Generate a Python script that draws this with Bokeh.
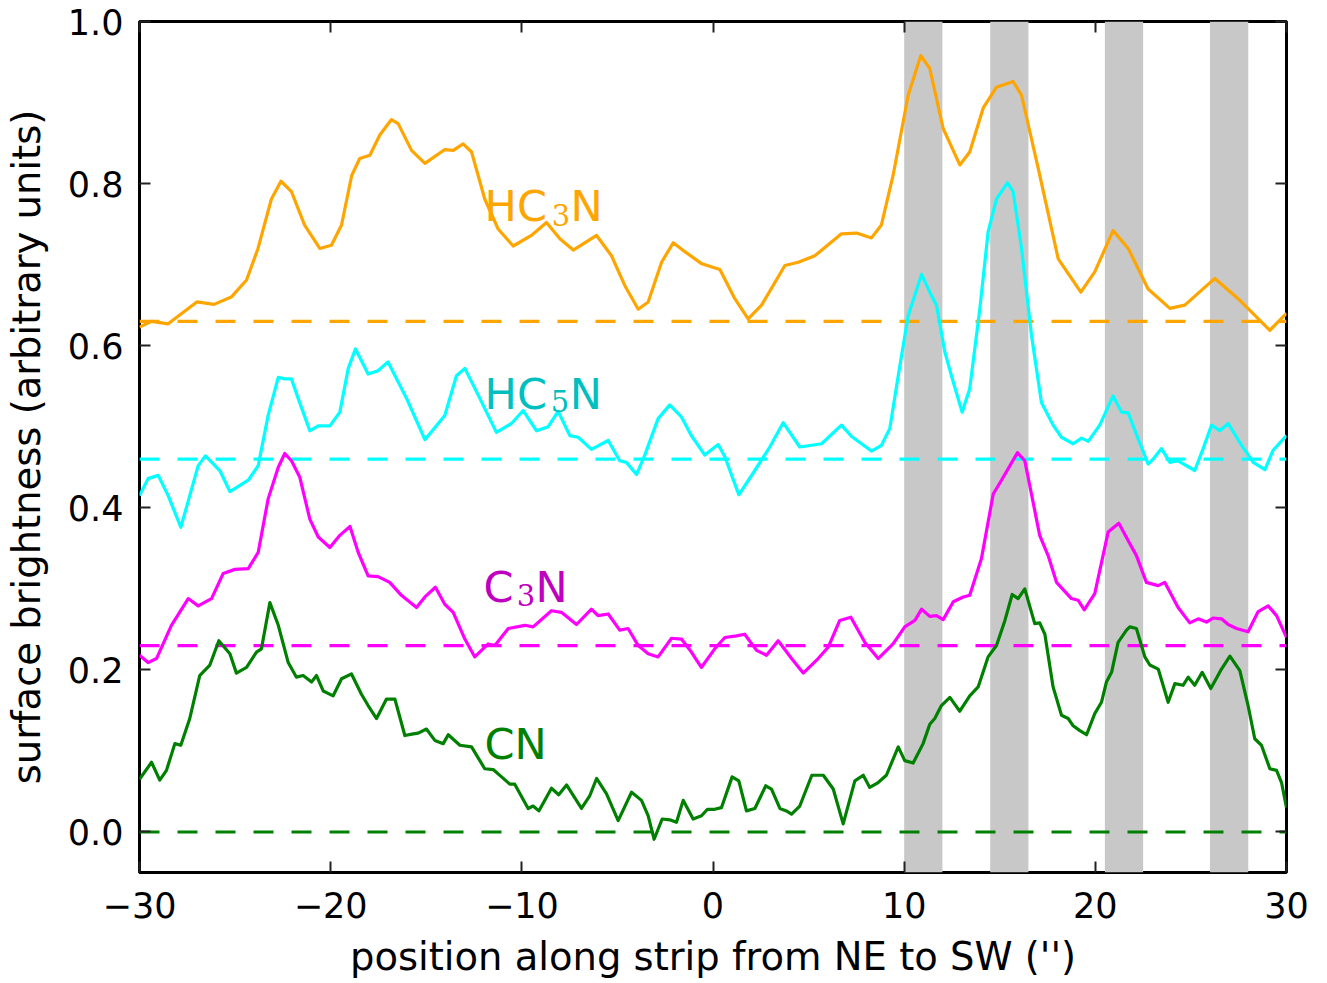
from bokeh.plotting import figure
from bokeh.models import (Range1d, FixedTicker, PrintfTickFormatter, CustomJSTickFormatter,
                          LinearAxis, BoxAnnotation, Label)
from bokeh.embed import file_html
from bokeh.resources import INLINE

# ---------------- data ----------------
hc3n_x = [-30.0, -29.37, -28.5, -27.0, -26.1, -25.2, -24.4, -23.8, -23.1, -22.6, -22.05, -21.37, -20.57,
          -19.96, -19.43, -18.9, -18.48, -17.95, -17.43, -16.82, -16.47, -15.77, -15.07, -14.03, -13.59,
          -13.07, -12.63, -11.94, -11.24, -10.45, -9.5, -8.71, -8.01, -7.31, -6.09, -5.31, -4.61, -3.91,
          -3.39, -2.69, -2.08, -1.47, -0.58, 0.36, 1.14, 1.84, 2.54, 3.76, 4.46, 5.33, 6.72, 7.51, 8.29,
          8.81, 9.42, 10.21, 10.87, 11.34, 12.04, 12.91, 13.43, 14.13, 14.83, 15.70, 16.14, 17.01, 18.06,
          19.24, 19.97, 20.93, 21.72, 22.76, 23.90, 24.68, 26.25, 27.56, 29.13, 30.0]
hc3n_y = [0.623, 0.630, 0.627, 0.654, 0.651, 0.660, 0.681, 0.720, 0.781, 0.803, 0.790, 0.749, 0.720,
          0.724, 0.749, 0.810, 0.831, 0.835, 0.860, 0.879, 0.874, 0.841, 0.825, 0.842, 0.841,
          0.849, 0.839, 0.781, 0.744, 0.723, 0.736, 0.752, 0.732, 0.718, 0.736, 0.711, 0.674, 0.645,
          0.654, 0.703, 0.727, 0.716, 0.701, 0.694, 0.658, 0.633, 0.650, 0.699, 0.703, 0.711, 0.738, 0.739, 0.733,
          0.749, 0.810, 0.909, 0.958, 0.942, 0.868, 0.823, 0.839, 0.893, 0.919, 0.926, 0.909, 0.819, 0.707,
          0.666, 0.691, 0.742, 0.720, 0.670, 0.646, 0.650, 0.683, 0.656, 0.619, 0.640]

hc5n_x = [-30.0, -29.55, -29.02, -28.5, -27.84, -27.37, -26.93, -26.55, -25.80, -25.27, -24.31, -23.79,
          -23.27, -22.74, -22.4, -22.05, -21.7, -21.09, -20.65, -20.04, -19.52, -19.08, -18.70, -18.04,
          -17.52, -17.0, -16.03, -15.07, -14.03, -13.42, -12.98, -12.28, -11.33, -10.54, -9.93, -9.23,
          -8.62, -8.1, -7.49, -7.05, -6.36, -5.48, -4.88, -4.53, -4.0, -3.57, -2.87, -2.26, -1.65, -1.13,
          -0.43, 0.27, 0.62, 1.35, 2.19, 2.97, 3.67, 4.54, 5.68, 6.72, 7.25, 8.29, 8.81, 9.25, 9.69, 10.21,
          10.91, 11.34, 11.69, 12.13, 12.47, 13.03, 13.43, 13.96, 14.39, 14.83, 15.40, 15.70, 16.14, 16.66,
          17.18, 17.79, 18.23, 18.84, 19.28, 19.63, 20.23, 20.93, 21.37, 21.72, 22.24, 22.76, 23.02, 23.46,
          23.9, 24.33, 25.2, 25.64, 26.08, 26.51, 26.95, 27.65, 28.26, 28.87, 29.30, 30.0]
hc5n_y = [0.415, 0.436, 0.440, 0.415, 0.376, 0.415, 0.452, 0.464, 0.446, 0.420, 0.434, 0.452,
          0.514, 0.561, 0.559, 0.559, 0.535, 0.495, 0.501, 0.501, 0.518, 0.572, 0.596, 0.565,
          0.569, 0.580, 0.535, 0.484, 0.514, 0.563, 0.572, 0.539, 0.493, 0.504, 0.520, 0.495,
          0.500, 0.519, 0.489, 0.487, 0.472, 0.483, 0.458, 0.456, 0.441, 0.465, 0.510, 0.527, 0.512, 0.489,
          0.465, 0.478, 0.463, 0.416, 0.446, 0.475, 0.505, 0.475, 0.479, 0.502, 0.488, 0.470, 0.477, 0.498, 0.563, 0.637,
          0.688, 0.666, 0.650, 0.592, 0.563, 0.518, 0.547, 0.646, 0.740, 0.781, 0.801, 0.790, 0.720, 0.613,
          0.530, 0.502, 0.487, 0.479, 0.486, 0.482, 0.502, 0.538, 0.518, 0.517, 0.485, 0.454, 0.460, 0.473,
          0.456, 0.458, 0.446, 0.473, 0.502, 0.495, 0.504, 0.477, 0.456, 0.447, 0.471, 0.489]

c3n_x = [-30.0, -29.55, -29.11, -28.33, -27.45, -26.93, -26.23, -25.62, -25.01, -24.31, -23.79, -23.27,
         -22.74, -22.4, -22.05, -21.62, -21.09, -20.65, -20.04, -19.52, -18.99, -18.56, -18.04, -17.52,
         -16.91, -16.30, -15.51, -15.07, -14.52, -14.03, -13.59, -12.98, -12.46, -11.76, -11.41, -10.71,
         -9.84, -9.41, -8.45, -7.93, -7.14, -6.36, -6.01, -5.48, -4.88, -4.44, -3.91, -3.39, -2.87, -2.17,
         -1.65, -1.13, -0.61, 0.09, 0.62, 1.23, 1.66, 2.28, 2.80, 3.41, 4.11, 4.72, 5.50, 6.03, 6.63, 7.21,
         7.94, 8.64, 9.42, 10.03, 10.56, 10.91, 11.34, 11.69, 12.04, 12.57, 13.09, 13.43, 14.04, 14.66,
         15.09, 15.93, 16.31, 17.09, 17.53, 17.97, 18.75, 19.10, 19.42, 19.97, 20.67, 21.23, 21.80, 22.15,
         22.67, 23.29, 23.63, 24.33, 24.94, 25.38, 25.81, 26.16, 26.60, 26.95, 27.39, 27.99, 28.52, 29.04,
         29.48, 30.0]
c3n_y = [0.218, 0.209, 0.214, 0.255, 0.288, 0.279, 0.288, 0.319, 0.324, 0.325, 0.345, 0.411,
         0.450, 0.467, 0.458, 0.438, 0.386, 0.364, 0.351, 0.366, 0.377, 0.345, 0.316, 0.315,
         0.308, 0.292, 0.277, 0.290, 0.302, 0.281, 0.271, 0.238, 0.216, 0.232, 0.230, 0.251,
         0.255, 0.253, 0.273, 0.271, 0.256, 0.275, 0.267, 0.269, 0.249, 0.251, 0.230, 0.220, 0.216, 0.239,
         0.238, 0.222, 0.203, 0.226, 0.240, 0.242, 0.244, 0.224, 0.218, 0.236, 0.214, 0.196, 0.214, 0.228, 0.261, 0.265,
         0.234, 0.214, 0.232, 0.253, 0.261, 0.275, 0.266, 0.267, 0.262, 0.284, 0.290, 0.292, 0.337, 0.417,
         0.434, 0.468, 0.458, 0.366, 0.341, 0.308, 0.288, 0.286, 0.274, 0.294, 0.370, 0.381, 0.356, 0.341,
         0.308, 0.304, 0.308, 0.277, 0.258, 0.263, 0.259, 0.264, 0.263, 0.256, 0.251, 0.247, 0.272, 0.279,
         0.267, 0.240]

cn_x = [-30.0, -29.37, -28.94, -28.59, -28.15, -27.84, -27.37, -26.85, -26.32, -25.85, -25.27, -24.93,
        -24.40, -23.88, -23.62, -23.18, -22.74, -22.22, -21.79, -21.44, -21.0, -20.74, -20.39, -19.87,
        -19.43, -18.91, -18.39, -18.04, -17.60, -17.08, -16.64, -16.12, -15.68, -15.42, -14.99, -14.55,
        -14.11, -13.85, -13.24, -12.63, -11.94, -11.5, -11.06, -10.63, -10.37, -9.67, -9.41, -9.11, -8.45,
        -8.07, -7.66, -6.88, -6.44, -6.09, -5.57, -4.96, -4.26, -3.74, -3.39, -3.08, -2.66, -2.26, -1.91,
        -1.56, -1.04, -0.60, -0.29, 0.09, 0.44, 1.00, 1.35, 1.75, 2.19, 2.76, 3.06, 3.50, 3.84, 4.11, 4.54,
        5.17, 5.77, 6.29, 6.81, 7.42, 7.86, 8.20, 8.64, 9.07, 9.69, 10.03, 10.47, 10.99, 11.34, 11.60, 11.95,
        12.39, 12.91, 13.43, 13.87, 14.39, 14.83, 15.27, 15.65, 15.96, 16.31, 16.83, 17.09, 17.36, 17.79,
        18.23, 18.58, 18.84, 19.19, 19.54, 19.97, 20.32, 20.58, 20.85, 21.19, 21.63, 21.80, 22.15, 22.59,
        22.85, 23.29, 23.81, 24.16, 24.59, 24.86, 25.20, 25.59, 26.04, 26.60, 27.04, 27.56, 27.99, 28.34,
        28.69, 29.13, 29.48, 29.74, 30.0]
cn_y = [0.065, 0.086, 0.064, 0.076, 0.109, 0.107, 0.140, 0.193, 0.206, 0.236, 0.220, 0.196,
        0.203, 0.222, 0.226, 0.283, 0.255, 0.209, 0.191, 0.193, 0.185, 0.193, 0.174, 0.168,
        0.189, 0.195, 0.170, 0.156, 0.140, 0.164, 0.164, 0.119, 0.121, 0.122, 0.127, 0.113,
        0.109, 0.120, 0.107, 0.105, 0.078, 0.077, 0.068, 0.059, 0.059, 0.029, 0.032, 0.026, 0.054,
        0.046, 0.058, 0.029, 0.045, 0.066, 0.047, 0.014, 0.049, 0.039, 0.020, -0.009, 0.016, 0.015, 0.012,
        0.039, 0.016, 0.020, 0.028, 0.028, 0.030, 0.068, 0.063, 0.026, 0.029, 0.057, 0.053, 0.029, 0.026, 0.022, 0.032,
        0.070, 0.070, 0.053, 0.010, 0.063, 0.070, 0.055, 0.061, 0.070, 0.105, 0.088, 0.085, 0.109, 0.133, 0.140, 0.156,
        0.166, 0.149, 0.168, 0.179, 0.216, 0.230, 0.261, 0.293, 0.288, 0.300, 0.257, 0.258, 0.244, 0.179,
        0.144, 0.140, 0.131, 0.125, 0.120, 0.146, 0.160, 0.185, 0.197, 0.234, 0.249, 0.253, 0.251, 0.216,
        0.206, 0.201, 0.160, 0.183, 0.181, 0.191, 0.181, 0.197, 0.177, 0.201, 0.217, 0.199, 0.156, 0.115,
        0.107, 0.078, 0.076, 0.061, 0.030]

baselines = [0.63, 0.46, 0.23, 0.0]
band_left = [10.0, 14.5, 20.5, 26.0]
band_right = [12.0, 16.5, 22.5, 28.0]
x_ticks = [-30, -20, -10, 0, 10, 20, 30]
y_ticks = [0.0, 0.2, 0.4, 0.6, 0.8, 1.0]

series = [
    (hc3n_x, hc3n_y, "#FFA500"),
    (hc5n_x, hc5n_y, "#00FFFF"),
    (c3n_x, c3n_y, "#FF00FF"),
    (cn_x, cn_y, "#008000"),
]
for sx, sy, _ in series:
    assert len(sx) == len(sy), (len(sx), len(sy))

FONT = "DejaVu Sans"

p = figure(width=1311, height=965, frame_width=1147, frame_height=851,
           x_range=Range1d(-30, 30), y_range=Range1d(-0.05, 1.0),
           output_backend="svg", toolbar_location=None,
           min_border_left=130, min_border_right=28, min_border_top=21, min_border_bottom=98)
p.background_fill_color = "white"
p.border_fill_color = "white"
p.xgrid.visible = False
p.ygrid.visible = False
p.outline_line_color = "black"
p.outline_line_width = 3
p.outline_line_alpha = 1.0

# shaded bands
for l, r in zip(band_left, band_right):
    p.add_layout(BoxAnnotation(left=l, right=r, fill_color="#C8C8C8", fill_alpha=1.0,
                               line_color=None, level="underlay"))

# curves and baselines
for (sx, sy, col), b in zip(series, baselines):
    p.line(sx, sy, line_color=col, line_width=3.2, line_join="round")
    p.line([-30, 30], [b, b], line_color=col, line_width=3.2, line_dash="20 18")

# axes styling
def style_axis(ax, show_labels):
    ax.axis_line_color = None
    ax.major_tick_in = 11
    ax.major_tick_out = 0
    ax.minor_tick_line_color = None
    ax.major_tick_line_width = 2
    ax.major_tick_line_color = "#222222"
    if show_labels:
        ax.major_label_text_font = FONT
        ax.major_label_text_font_size = "35px"
        ax.major_label_text_color = "black"
        ax.axis_label_text_font = FONT
        ax.axis_label_text_font_size = "38.5px"
        ax.axis_label_text_font_style = "normal"
        ax.axis_label_text_color = "black"
    else:
        ax.major_label_text_color = None
        ax.major_label_text_font_size = "1px"

xfmt = CustomJSTickFormatter(code='return tick < 0 ? "\\u2212" + (-tick) : "" + tick;')
yfmt = PrintfTickFormatter(format="%.1f")

xa = p.xaxis[0]
xa.ticker = FixedTicker(ticks=x_ticks)
xa.formatter = xfmt
xa.axis_label = "position along strip from NE to SW ('')"
style_axis(xa, True)
xa.major_label_standoff = 19
xa.axis_label_standoff = 13

ya = p.yaxis[0]
ya.ticker = FixedTicker(ticks=y_ticks)
ya.formatter = yfmt
ya.axis_label = "surface brightness (arbitrary units)"
style_axis(ya, True)
ya.major_label_standoff = 16
ya.axis_label_standoff = 16

top = LinearAxis(ticker=FixedTicker(ticks=x_ticks))
style_axis(top, False)
p.add_layout(top, "above")
right = LinearAxis(ticker=FixedTicker(ticks=y_ticks))
style_axis(right, False)
p.add_layout(right, "right")

# species labels (main text, subscript, trailing N)
label_specs = [
    # (x, y, text, color, size, font)
    (-11.95, 0.772, "HC", "#FFA500", "43px", FONT),
    (-8.44, 0.761, "3", "#FFA500", "29px", "DejaVu Serif"),
    (-7.45, 0.772, "N", "#FFA500", "43px", FONT),
    (-11.95, 0.541, "HC", "#00BFBF", "43px", FONT),
    (-8.49, 0.532, "5", "#00BFBF", "29px", "DejaVu Serif"),
    (-7.50, 0.541, "N", "#00BFBF", "43px", FONT),
    (-12.00, 0.302, "C", "#BF00BF", "43px", FONT),
    (-10.27, 0.292, "3", "#BF00BF", "29px", "DejaVu Serif"),
    (-9.28, 0.302, "N", "#BF00BF", "43px", FONT),
    (-11.95, 0.109, "CN", "#008000", "43px", FONT),
]
for lx, ly, txt, col, sz, fnt in label_specs:
    p.add_layout(Label(x=lx, y=ly, text=txt, text_color=col, text_font_size=sz,
                       text_font=fnt, text_baseline="alphabetic", text_align="left"))

open("out.html", "w").write(file_html(p, INLINE))
